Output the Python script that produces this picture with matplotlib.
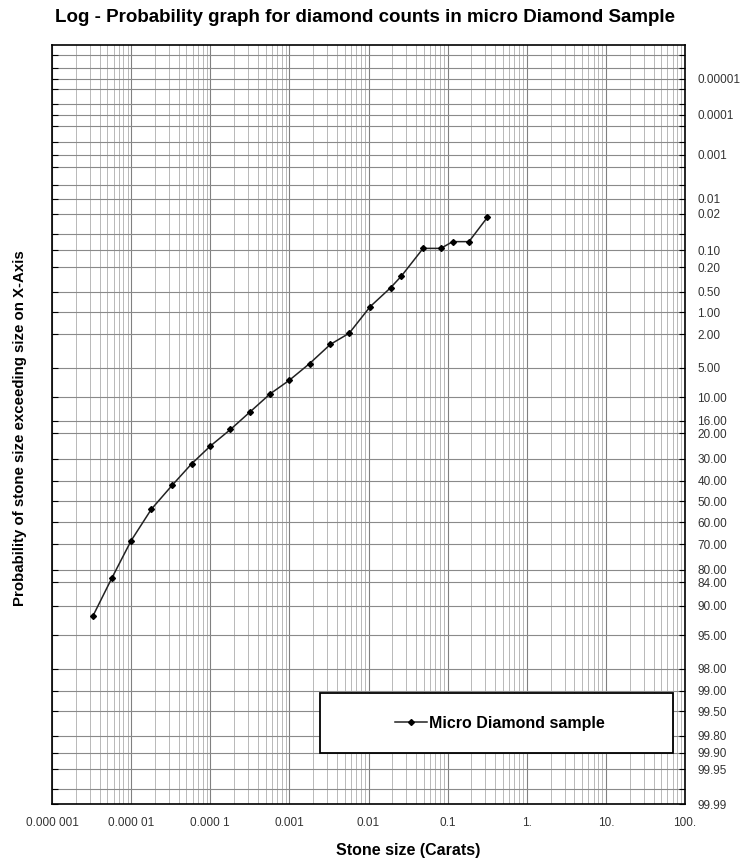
"""Log-probability plot of micro diamond stone sizes (Excel-style probability paper)."""

from statistics import NormalDist

import numpy as np
import matplotlib

matplotlib.use("Agg")  # headless

import matplotlib.pyplot as plt  # noqa: E402
from matplotlib.patches import Rectangle  # noqa: E402

# --- data ------------------------------------------------------------------
stone_size_ct = [3.3e-6, 5.7e-6, 1.0e-5, 1.8e-5, 3.3e-5, 5.8e-5, 1.0e-4, 1.8e-4,
                 3.2e-4, 5.7e-4, 1.0e-3, 1.8e-3, 3.3e-3, 5.7e-3, 0.0105, 0.019,
                 0.026, 0.049, 0.082, 0.116, 0.186, 0.317]
prob_exceed_pct = [92.0, 82.7, 68.5, 53.8, 42.1, 32.2, 24.8, 18.8,
                   13.5, 9.3, 6.8, 4.5, 2.67, 1.93, 0.83, 0.43,
                   0.28, 0.093, 0.093, 0.070, 0.070, 0.024]

x_tick_values = [1e-6, 1e-5, 1e-4, 1e-3, 1e-2, 1e-1, 1, 10, 100]
x_tick_labels = ["0.000 001", "0.000 01", "0.000 1", "0.001", "0.01", "0.1",
                 "1.", "10.", "100."]

y_tick_labels = ["0.00001", "0.0001", "0.001", "0.01", "0.02", "0.10", "0.20",
                 "0.50", "1.00", "2.00", "5.00", "10.00", "16.00", "20.00",
                 "30.00", "40.00", "50.00", "60.00", "70.00", "80.00", "84.00",
                 "90.00", "95.00", "98.00", "99.00", "99.50", "99.80", "99.90",
                 "99.95", "99.99"]
y_minor_values = [0.000002, 0.000005, 0.00002, 0.00005, 0.0002, 0.0005,
                  0.002, 0.005, 0.05, 99.98]

_ND = NormalDist()


def _prob_forward(p):
    """Percent probability -> standard normal quantile."""
    arr = np.clip(np.asarray(p, dtype=float), 1e-10, 100.0 - 1e-10)
    f = np.vectorize(lambda v: _ND.inv_cdf(v / 100.0) if np.isfinite(v) else np.nan,
                     otypes=[float])
    return f(arr)


def _prob_inverse(z):
    """Standard normal quantile -> percent probability."""
    arr = np.asarray(z, dtype=float)
    f = np.vectorize(lambda v: 100.0 * _ND.cdf(v) if np.isfinite(v) else np.nan,
                     otypes=[float])
    return f(arr)


plt.rcParams["font.family"] = ["Liberation Sans", "DejaVu Sans"]

W, H = 750, 863
fig = plt.figure(figsize=(W / 100, H / 100), dpi=100)
fig.patch.set_facecolor("white")

ax = fig.add_axes([52 / W, (H - 804) / H, 633 / W, 759 / H])
ax.set_xscale("log")
ax.set_yscale("function", functions=(_prob_forward, _prob_inverse))
ax.set_xlim(1e-6, 100)
ax.set_ylim(99.99, 0.000001)

# x axis: decades labelled, 2..9 as minor grid
ax.set_xticks(x_tick_values)
ax.set_xticklabels(x_tick_labels)
ax.xaxis.set_minor_locator(matplotlib.ticker.LogLocator(base=10, subs=np.arange(2, 10)))
ax.xaxis.set_minor_formatter(matplotlib.ticker.NullFormatter())
ax.tick_params(axis="x", which="both", length=0, pad=9, labelsize=8.5, labelcolor="#333333")

# y axis: probability paper ticks
y_tick_values = [float(v) for v in y_tick_labels]
ax.set_yticks(y_tick_values)
ax.set_yticklabels(y_tick_labels)
ax.set_yticks(y_minor_values, minor=True)
ax.yaxis.set_minor_formatter(matplotlib.ticker.NullFormatter())
ax.tick_params(axis="y", which="both", left=True, right=True, labelleft=False,
               labelright=True, direction="in", length=4, width=0.8,
               pad=9, labelsize=8.5, labelcolor="#333333")

ax.grid(True, axis="x", which="minor", color="#b8b8b8", linewidth=0.7)
ax.grid(True, axis="x", which="major", color="#808080", linewidth=0.8)
ax.grid(True, axis="y", which="both", color="#8a8a8a", linewidth=0.8)
ax.set_axisbelow(True)
for sp in ax.spines.values():
    sp.set_color("black")
    sp.set_linewidth(1.2)

ax.plot(stone_size_ct, prob_exceed_pct, color="#222222", linewidth=1.1,
        marker="D", markersize=3.0, markerfacecolor="black",
        markeredgecolor="black", label="Micro Diamond sample", zorder=3)

# legend box (Excel style: plain rectangle, entry centred)
box = Rectangle((0.4234, 0.0672), 0.5577, 0.0790, transform=ax.transAxes,
                facecolor="white", edgecolor="black", linewidth=1.3, zorder=4)
ax.add_patch(box)
leg = ax.legend(loc="center", bbox_to_anchor=(0.708, 0.0672 + 0.0395),
                frameon=False, handlelength=2.0, handletextpad=0.15,
                prop={"weight": "bold", "size": 11.5})
leg.set_zorder(5)

fig.text(365 / W, 1 - 18 / H,
         "Log - Probability graph for diamond counts in micro Diamond Sample",
         ha="center", va="center", fontsize=13.5, fontweight="bold")
fig.text(408 / W, 1 - 850 / H, "Stone size (Carats)", ha="center", va="center",
         fontsize=11.5, fontweight="bold")
fig.text(20 / W, 1 - 428 / H, "Probability of stone size exceeding size on X-Axis",
         ha="center", va="center", rotation=90, fontsize=10.8, fontweight="bold")

fig.savefig("out.png", dpi=100)
plt.close(fig)
